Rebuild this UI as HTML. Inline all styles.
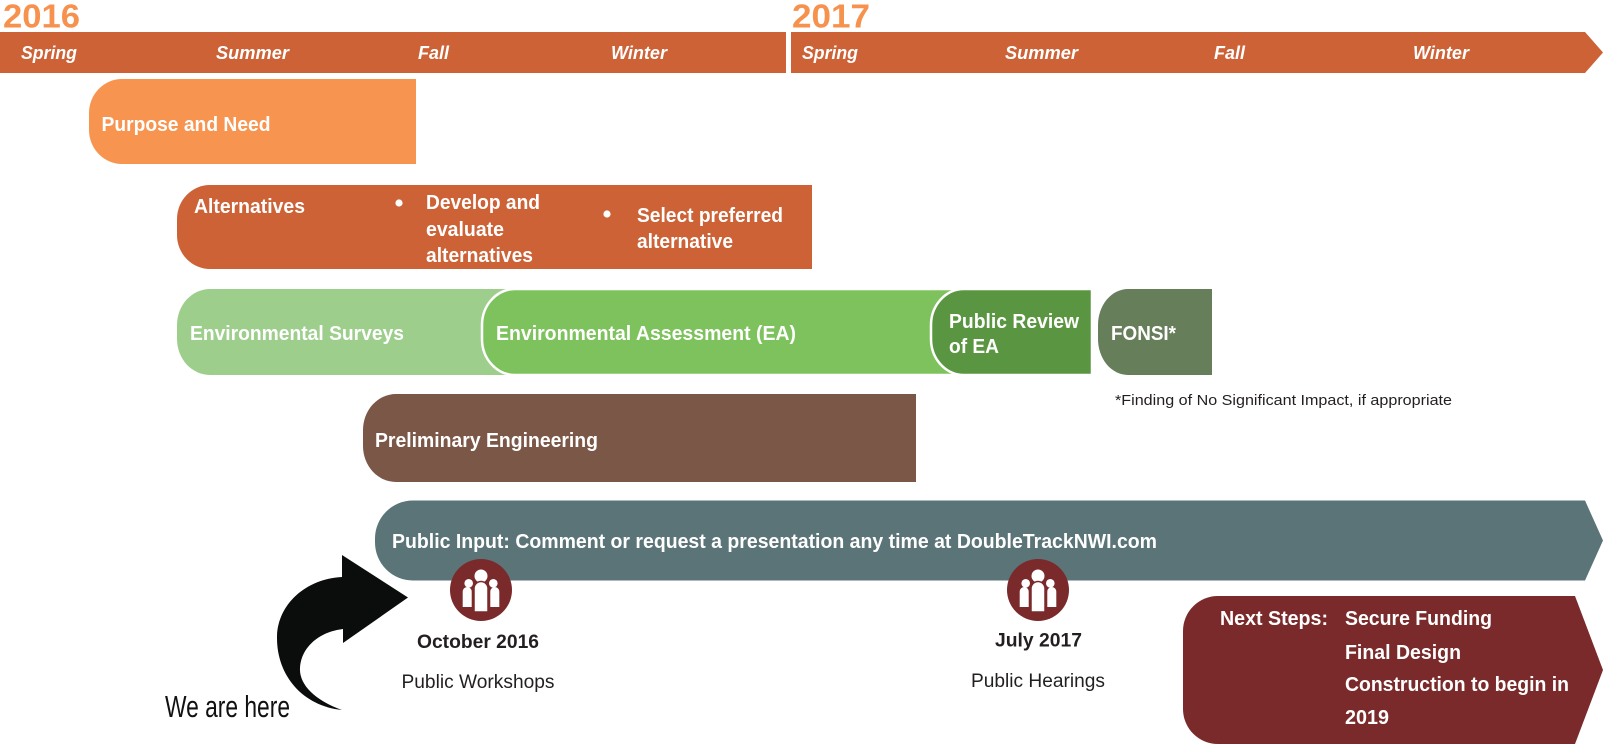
<!DOCTYPE html>
<html><head><meta charset="utf-8"><style>
html,body{margin:0;padding:0;background:#fff;}
svg{display:block;}
text{font-family:"Liberation Sans",Arial,sans-serif;}
.b{font-weight:bold;fill:#fff;font-size:20px;}
.s{font-weight:bold;font-style:italic;fill:#fff;font-size:18.5px;}
.y{font-weight:bold;fill:#F7924E;font-size:33px;}
.d{fill:#231F20;}
</style></head><body>
<svg width="1608" height="752" viewBox="0 0 1608 752" xmlns="http://www.w3.org/2000/svg">
<rect width="1608" height="752" fill="#fff"/>
<!-- Years -->
<text class="y" x="3" y="27.5" textLength="77" lengthAdjust="spacingAndGlyphs">2016</text>
<text class="y" x="792" y="27.5" textLength="78" lengthAdjust="spacingAndGlyphs">2017</text>
<!-- header bars -->
<rect x="0" y="32" width="786" height="41" fill="#CC6236"/>
<path d="M791 32 H1585 L1603 52.5 L1585 73 H791 Z" fill="#CC6236"/>
<text class="s" x="21" y="59" textLength="56" lengthAdjust="spacingAndGlyphs">Spring</text>
<text class="s" x="216" y="59" textLength="73" lengthAdjust="spacingAndGlyphs">Summer</text>
<text class="s" x="418" y="59" textLength="31" lengthAdjust="spacingAndGlyphs">Fall</text>
<text class="s" x="611" y="59" textLength="56" lengthAdjust="spacingAndGlyphs">Winter</text>
<text class="s" x="802" y="59" textLength="56" lengthAdjust="spacingAndGlyphs">Spring</text>
<text class="s" x="1005" y="59" textLength="73" lengthAdjust="spacingAndGlyphs">Summer</text>
<text class="s" x="1214" y="59" textLength="31" lengthAdjust="spacingAndGlyphs">Fall</text>
<text class="s" x="1413" y="59" textLength="56" lengthAdjust="spacingAndGlyphs">Winter</text>

<!-- Purpose and Need -->
<path d="M416 79 H122 A33 34 0 0 0 89 113 V130 A33 34 0 0 0 122 164 H416 Z" fill="#F79550"/>
<text class="b" x="101.5" y="131" textLength="169" lengthAdjust="spacingAndGlyphs">Purpose and Need</text>

<!-- Alternatives -->
<path d="M812 185 H210 A33 34 0 0 0 177 219 V235 A33 34 0 0 0 210 269 H812 Z" fill="#CC6236"/>
<text class="b" x="194" y="213" textLength="111" lengthAdjust="spacingAndGlyphs">Alternatives</text>
<circle cx="399" cy="203" r="3.6" fill="#fff"/>
<text class="b" x="426" y="209" textLength="114" lengthAdjust="spacingAndGlyphs">Develop and</text>
<text class="b" x="426" y="236" textLength="78" lengthAdjust="spacingAndGlyphs">evaluate</text>
<text class="b" x="426" y="262" textLength="107" lengthAdjust="spacingAndGlyphs">alternatives</text>
<circle cx="607" cy="214" r="3.6" fill="#fff"/>
<text class="b" x="637" y="222" textLength="146" lengthAdjust="spacingAndGlyphs">Select preferred</text>
<text class="b" x="637" y="248" textLength="96" lengthAdjust="spacingAndGlyphs">alternative</text>

<!-- Environmental row -->
<path d="M560 289 H210 A33 36 0 0 0 177 325 V339 A33 36 0 0 0 210 375 H560 Z" fill="#9ECE8C"/>
<path d="M960 289 H515 A33 36 0 0 0 482 325 V339 A33 36 0 0 0 515 375 H960 Z" fill="#7DC25C" stroke="#fff" stroke-width="2.5"/>
<path d="M1092 289 H964 A33 36 0 0 0 931 325 V339 A33 36 0 0 0 964 375 H1092 Z" fill="#5A9641" stroke="#fff" stroke-width="2.5"/>
<rect x="1092" y="287" width="5" height="90" fill="#fff"/>
<path d="M1212 289 H1128 A30 36 0 0 0 1098 325 V339 A30 36 0 0 0 1128 375 H1212 Z" fill="#677E5B"/>
<text class="b" x="190" y="340" textLength="214" lengthAdjust="spacingAndGlyphs">Environmental Surveys</text>
<text class="b" x="496" y="340" textLength="300" lengthAdjust="spacingAndGlyphs">Environmental Assessment (EA)</text>
<text class="b" x="949" y="328" textLength="130" lengthAdjust="spacingAndGlyphs">Public Review</text>
<text class="b" x="949" y="353" textLength="50" lengthAdjust="spacingAndGlyphs">of EA</text>
<text class="b" x="1111" y="340" textLength="65" lengthAdjust="spacingAndGlyphs">FONSI*</text>
<text class="d" x="1115" y="405" font-size="14.5" textLength="337" lengthAdjust="spacingAndGlyphs">*Finding of No Significant Impact, if appropriate</text>

<!-- Preliminary Engineering -->
<path d="M916 394 H396 A33 36 0 0 0 363 430 V446 A33 36 0 0 0 396 482 H916 Z" fill="#7B5747"/>
<text class="b" x="375" y="447" textLength="223" lengthAdjust="spacingAndGlyphs">Preliminary Engineering</text>

<!-- Public Input -->
<path d="M1585 500.5 H413 A38 38 0 0 0 375 538.5 V542.5 A38 38 0 0 0 413 580.5 H1585 L1603 540.5 Z" fill="#5B7478"/>
<text class="b" x="392" y="548" textLength="765" lengthAdjust="spacingAndGlyphs">Public Input: Comment or request a presentation any time at DoubleTrackNWI.com</text>

<!-- icons -->
<g>
<circle cx="481" cy="590" r="31" fill="#7A2A2A"/>
<g fill="#fff">
<circle cx="481" cy="576" r="6.5"/>
<circle cx="468.7" cy="583.3" r="4.3"/>
<circle cx="493.3" cy="583.3" r="4.3"/>
<path d="M462.7 607 V591.5 A4.5 4.5 0 0 1 467.2 587 H467.2 A4.5 4.5 0 0 1 471.7 591.5 V607 Z"/>
<path d="M490.3 607 V591.5 A4.5 4.5 0 0 1 494.8 587 H494.8 A4.5 4.5 0 0 1 499.3 591.5 V607 Z"/>
<path d="M474 612 V588.5 A7 7 0 0 1 481 581.5 A7 7 0 0 1 488 588.5 V612 Z" stroke="#7A2A2A" stroke-width="1.5"/>
</g>
</g>
<g>
<circle cx="1038" cy="590" r="31" fill="#7A2A2A"/>
<g fill="#fff">
<circle cx="1038" cy="576" r="6.5"/>
<circle cx="1025.7" cy="583.3" r="4.3"/>
<circle cx="1050.3" cy="583.3" r="4.3"/>
<path d="M1019.7 607 V591.5 A4.5 4.5 0 0 1 1024.2 587 H1024.2 A4.5 4.5 0 0 1 1028.7 591.5 V607 Z"/>
<path d="M1047.3 607 V591.5 A4.5 4.5 0 0 1 1051.8 587 H1051.8 A4.5 4.5 0 0 1 1056.3 591.5 V607 Z"/>
<path d="M1031 612 V588.5 A7 7 0 0 1 1038 581.5 A7 7 0 0 1 1045 588.5 V612 Z" stroke="#7A2A2A" stroke-width="1.5"/>
</g>
</g>

<text class="d" x="417" y="648" font-size="19" font-weight="bold" textLength="122" lengthAdjust="spacingAndGlyphs">October 2016</text>
<text class="d" x="401.5" y="688" font-size="19" textLength="153" lengthAdjust="spacingAndGlyphs">Public Workshops</text>
<text class="d" x="995" y="646.5" font-size="19" font-weight="bold" textLength="87" lengthAdjust="spacingAndGlyphs">July 2017</text>
<text class="d" x="971" y="687" font-size="19" textLength="134" lengthAdjust="spacingAndGlyphs">Public Hearings</text>

<!-- Next Steps -->
<path d="M1575 596 H1218 A35 35 0 0 0 1183 631 V709 A35 35 0 0 0 1218 744 H1575 L1603 670 Z" fill="#7A2A2A"/>
<text class="b" x="1220" y="625" font-size="19.5" textLength="108" lengthAdjust="spacingAndGlyphs">Next Steps:</text>
<text class="b" x="1345" y="625" font-size="19.5" textLength="147" lengthAdjust="spacingAndGlyphs">Secure Funding</text>
<text class="b" x="1345" y="659" font-size="19.5" textLength="116" lengthAdjust="spacingAndGlyphs">Final Design</text>
<text class="b" x="1345" y="691" font-size="19.5" textLength="224" lengthAdjust="spacingAndGlyphs">Construction to begin in</text>
<text class="b" x="1345" y="724" font-size="19.5" textLength="44" lengthAdjust="spacingAndGlyphs">2019</text>

<!-- We are here arrow -->
<path d="M342 577 C305 579 277 605 277 638 C277 676 303 706 342 710 C314 700 299 684 300 668 C301 648 318 632 343 629 L343 643 L408 597.5 L342 555 Z" fill="#0b0c0c"/>
<text x="165" y="717" font-size="31" fill="#111" textLength="125" lengthAdjust="spacingAndGlyphs">We are here</text>
</svg>
</body></html>
